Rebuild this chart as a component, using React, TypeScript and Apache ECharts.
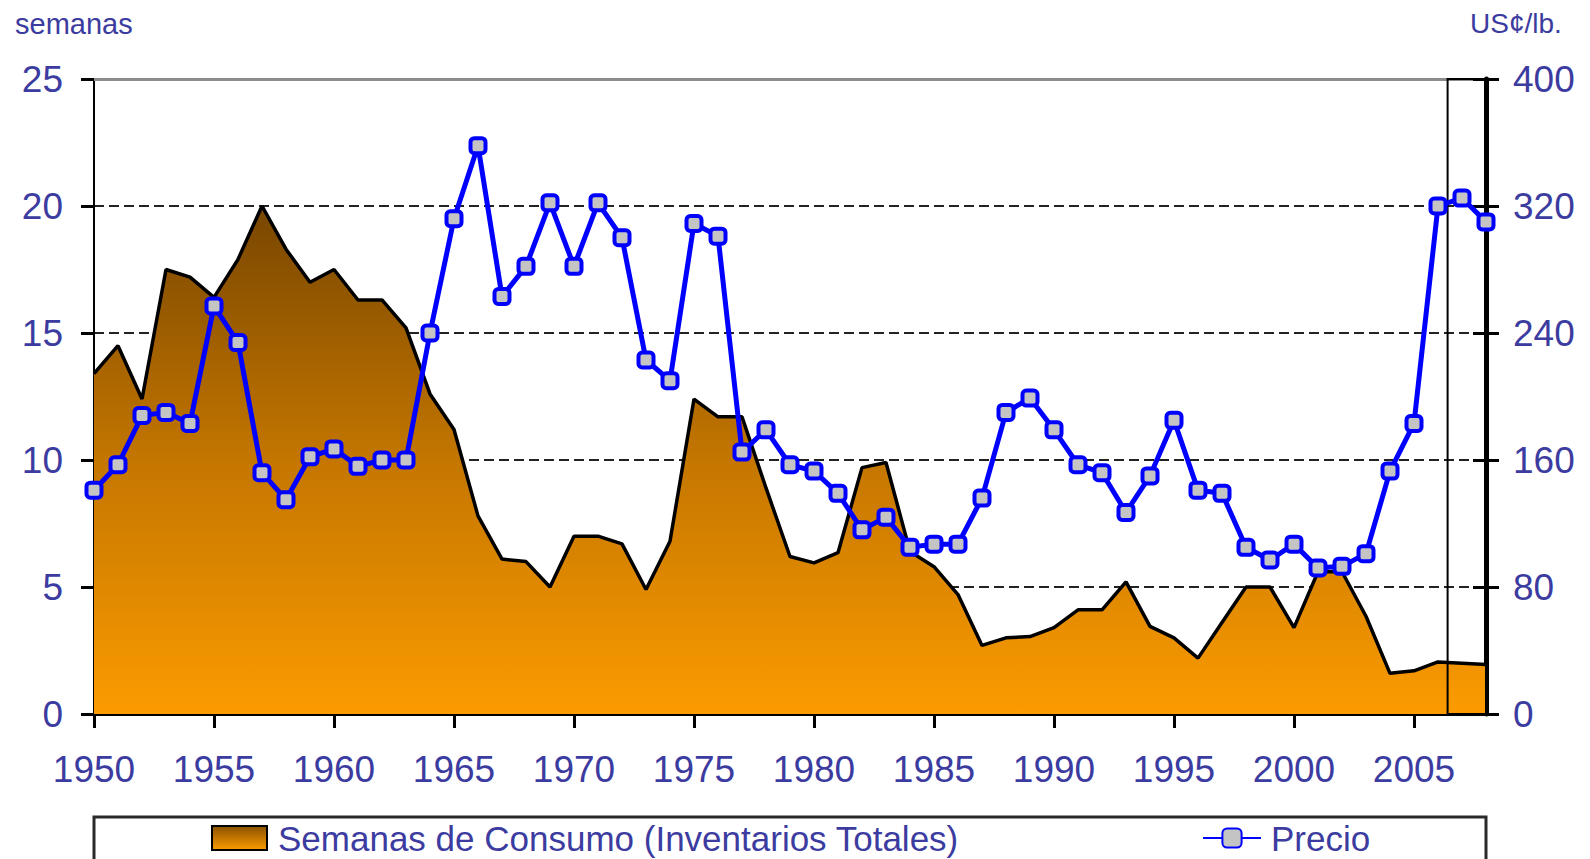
import React, { useEffect, useRef } from "react";
import * as echarts from "echarts";

const years = [
  1950, 1951, 1952, 1953, 1954, 1955, 1956, 1957, 1958, 1959,
  1960, 1961, 1962, 1963, 1964, 1965, 1966, 1967, 1968, 1969,
  1970, 1971, 1972, 1973, 1974, 1975, 1976, 1977, 1978, 1979,
  1980, 1981, 1982, 1983, 1984, 1985, 1986, 1987, 1988, 1989,
  1990, 1991, 1992, 1993, 1994, 1995, 1996, 1997, 1998, 1999,
  2000, 2001, 2002, 2003, 2004, 2005, 2006, 2007, 2008,
];

// Semanas de consumo (inventarios totales)
const weeks = [
  13.4, 14.5, 12.4, 17.5, 17.2, 16.4, 17.9, 20.0, 18.3, 17.0,
  17.5, 16.3, 16.3, 15.2, 12.6, 11.2, 7.8, 6.1, 6.0, 5.0,
  7.0, 7.0, 6.7, 4.9, 6.8, 12.4, 11.7, 11.7, 8.9, 6.2,
  5.95, 6.35, 9.7, 9.9, 6.4, 5.8, 4.7, 2.7, 3.0, 3.05,
  3.4, 4.1, 4.1, 5.2, 3.45, 3.0, 2.2, 3.6, 5.0, 5.0,
  3.4, 5.6, 5.6, 3.85, 1.6, 1.7, 2.05, 2.0, 1.95,
];

// Precio (US¢/lb.)
const price = [
  141, 157, 188, 190, 183, 257, 234, 152, 135, 162,
  167, 156, 160, 160, 240, 312, 358, 263, 282, 322,
  282, 322, 300, 223, 210, 309, 301, 165, 179, 157,
  153, 139, 116, 124, 105, 107, 107, 136, 190, 199,
  179, 157, 152, 127, 150, 185, 141, 139, 105, 97,
  107, 92, 93, 101, 153, 183, 320, 325, 310,
];

const xTicks = [1950, 1955, 1960, 1965, 1970, 1975, 1980, 1985, 1990, 1995, 2000, 2005];
const boxedRange = [2006.4, 2008];

const AREA_NAME = "Semanas de Consumo (Inventarios Totales)";
const PRICE_NAME = "Precio";
const LEFT_TITLE = "semanas";
const RIGHT_TITLE = "US¢/lb.";

const TEXT = "#3c3ca0";
const FONT = "'Liberation Sans', Arial, sans-serif";

export default function App() {
  const ref = useRef<HTMLDivElement>(null);

  useEffect(() => {
    if (!ref.current) return;
    const chart = echarts.init(ref.current, null, { renderer: "svg" });

    const areaGradient = new echarts.graphic.LinearGradient(0, 0, 0, 1, [
      { offset: 0, color: "#784600" },
      { offset: 0.5, color: "#c47600" },
      { offset: 1, color: "#fb9b00" },
    ]);
    const legendGradient = new echarts.graphic.LinearGradient(0, 0, 0, 1, [
      { offset: 0, color: "#8a5200" },
      { offset: 1, color: "#fb9b00" },
    ]);

    const xMin = years[0];
    const xMax = years[years.length - 1];

    const option: any = {
      animation: false,
      backgroundColor: "#ffffff",
      textStyle: { fontFamily: FONT },
      grid: { left: 94, top: 79, width: 1392, height: 635, containLabel: false },
      xAxis: [
        {
          type: "value",
          min: xMin,
          max: xMax,
          interval: 5,
          axisLine: { show: true, onZero: false, lineStyle: { color: "#000", width: 3 } },
          axisTick: {
            show: true,
            inside: false,
            length: 14,
            lineStyle: { color: "#000", width: 3 },
            customValues: xTicks,
          },
          axisLabel: {
            show: true,
            margin: 37,
            color: TEXT,
            fontSize: 37,
            fontFamily: FONT,
            customValues: xTicks,
            formatter: (v: number) => (xTicks.indexOf(v) >= 0 ? String(v) : ""),
          },
          splitLine: { show: false },
        },
        {
          type: "value",
          position: "top",
          min: xMin,
          max: xMax,
          axisLine: { show: true, onZero: false, lineStyle: { color: "#8c8c8c", width: 3 } },
          axisTick: { show: false },
          axisLabel: { show: false },
          splitLine: { show: false },
        },
      ],
      yAxis: [
        {
          type: "value",
          position: "left",
          min: 0,
          max: 25,
          interval: 5,
          axisLine: { show: true, onZero: false, lineStyle: { color: "#000", width: 2 } },
          axisTick: { show: true, inside: false, length: 13, lineStyle: { color: "#000", width: 3 } },
          axisLabel: { margin: 31, color: TEXT, fontSize: 37, fontFamily: FONT },
          splitLine: {
            show: true,
            showMinLine: false,
            showMaxLine: false,
            lineStyle: { color: "#222", width: 2, type: [10, 5] },
          },
        },
        {
          type: "value",
          position: "right",
          min: 0,
          max: 400,
          interval: 80,
          axisLine: { show: true, onZero: false, lineStyle: { color: "#000", width: 5 } },
          axisTick: { show: true, inside: false, length: 13, lineStyle: { color: "#000", width: 3 } },
          axisLabel: { margin: 27, color: TEXT, fontSize: 37, fontFamily: FONT },
          splitLine: { show: false },
        },
        {
          type: "value",
          position: "right",
          min: 0,
          max: 400,
          interval: 80,
          axisLine: { show: false },
          axisTick: { show: true, inside: true, length: 13, lineStyle: { color: "#000", width: 3 } },
          axisLabel: { show: false },
          splitLine: { show: false },
        },
      ],
      legend: [
        {
          left: 211,
          top: 820,
          padding: 0,
          itemWidth: 55,
          itemHeight: 24,
          selectedMode: false,
          data: [
            {
              name: AREA_NAME,
              icon: "rect",
              itemStyle: { color: legendGradient, borderColor: "#000", borderWidth: 2 },
            },
          ],
          textStyle: {
            color: TEXT,
            fontSize: 35,
            lineHeight: 36,
            fontFamily: FONT,
            padding: [0, 0, 0, 6],
          },
        },
        {
          left: 1202,
          top: 820,
          padding: 0,
          itemWidth: 58,
          itemHeight: 24,
          selectedMode: false,
          data: [{ name: PRICE_NAME }],
          textStyle: {
            color: TEXT,
            fontSize: 35,
            lineHeight: 36,
            fontFamily: FONT,
            padding: [0, 0, 0, 5],
          },
        },
      ],
      graphic: [
        {
          type: "rect",
          z: -1,
          shape: { x: 94, y: 817, width: 1392, height: 80 },
          style: { fill: "#ffffff", stroke: "#2a2a2a", lineWidth: 3 },
        },
        {
          type: "text",
          x: 15,
          y: 9,
          style: { text: LEFT_TITLE, fill: TEXT, fontSize: 29, fontFamily: FONT },
        },
        {
          type: "text",
          x: 1470,
          y: 9,
          style: { text: RIGHT_TITLE, fill: TEXT, fontSize: 28, fontFamily: FONT },
        },
      ],
      series: [
        {
          name: AREA_NAME,
          type: "line",
          xAxisIndex: 0,
          yAxisIndex: 0,
          z: 2,
          data: years.map((y, i) => [y, weeks[i]]),
          showSymbol: false,
          symbol: "none",
          lineStyle: { color: "#000", width: 3.5 },
          itemStyle: { color: "#c47600" },
          areaStyle: { color: areaGradient, opacity: 1 },
          markArea: {
            silent: true,
            z: 3,
            itemStyle: { color: "rgba(0,0,0,0)", borderColor: "#000", borderWidth: 2 },
            data: [[{ xAxis: boxedRange[0] }, { xAxis: boxedRange[1] }]],
          },
        },
        {
          name: PRICE_NAME,
          type: "line",
          xAxisIndex: 0,
          yAxisIndex: 1,
          z: 5,
          data: years.map((y, i) => [y, price[i]]),
          symbol: "roundRect",
          symbolSize: 15,
          showSymbol: true,
          lineStyle: { color: "#0000ff", width: 5 },
          itemStyle: { color: "#c4c4c4", borderColor: "#0000ff", borderWidth: 4 },
        },
      ],
    };

    chart.setOption(option);
    return () => chart.dispose();
  }, []);

  return (
    <div
      ref={ref}
      style={{ position: "absolute", left: 0, top: 0, width: 1590, height: 859 }}
    />
  );
}
